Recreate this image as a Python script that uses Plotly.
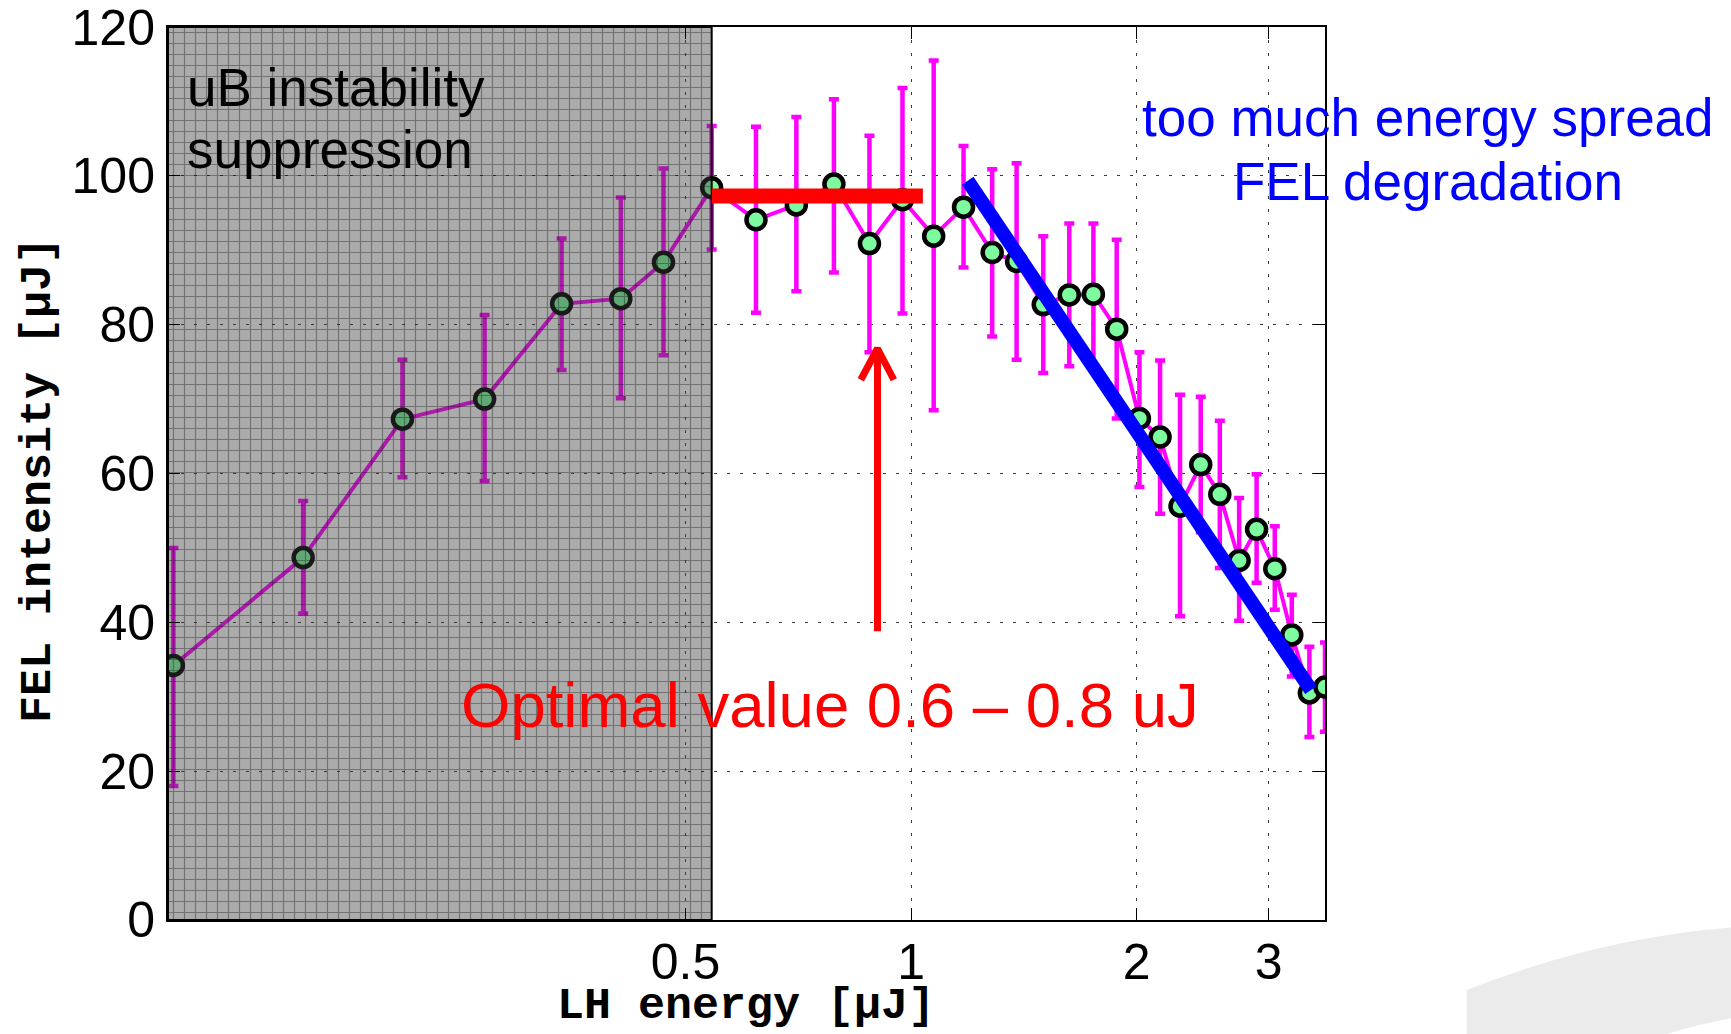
import math
import plotly.graph_objects as go

# ---------------- data ----------------
lh_energy = [0.1037, 0.1545, 0.2096, 0.2698, 0.3418, 0.410, 0.4674, 0.542,
             0.621, 0.703, 0.789, 0.880, 0.974, 1.072, 1.175, 1.283,
             1.383, 1.501, 1.626, 1.751, 1.881, 2.017, 2.149, 2.285,
             2.435, 2.582, 2.740, 2.891, 3.057, 3.221, 3.400, 3.567]
fel_intensity = [34.2, 48.7, 67.3, 70.0, 82.8, 83.5, 88.4, 98.4,
                 94.1, 96.1, 98.9, 90.9, 96.8, 91.9, 95.8, 89.7,
                 88.5, 82.7, 84.0, 84.1, 79.4, 67.4, 64.9, 55.6,
                 61.2, 57.2, 48.3, 52.5, 47.2, 38.3, 30.5, 31.3]
fel_upper = [50.0, 56.3, 75.3, 81.3, 91.6, 97.1, 101.0, 106.7,
             106.6, 107.9, 110.3, 105.4, 111.8, 115.5, 104.0, 100.9,
             101.7, 91.9, 93.6, 93.6, 91.4, 76.3, 75.2, 70.6,
             70.3, 67.1, 56.7, 59.9, 52.9, 43.7, 36.7, 37.3]
fel_lower = [18.0, 41.2, 59.5, 59.0, 73.9, 70.1, 75.9, 90.1,
             81.6, 84.5, 87.0, 76.3, 81.5, 68.5, 87.7, 78.4,
             75.3, 73.5, 74.4, 74.4, 67.4, 58.2, 54.6, 40.8,
             52.1, 47.3, 40.2, 45.3, 41.7, 32.7, 24.6, 25.3]

x_tick_vals = [0.5, 1, 2, 3]
x_tick_text = ["0.5", "1", "2", "3"]
y_tick_vals = [0, 20, 40, 60, 80, 100, 120]
y_tick_text = ["0", "20", "40", "60", "80", "100", "120"]

x_limits = [0.102, 3.567]
y_limits = [-0.01, 120.01]

suppression_region = [0.102, 0.542]          # shaded x-span
optimal_span = [0.542, 1.037]                # red bar x-span
optimal_level = 97.3                         # red bar level
arrow_x, arrow_wing_x = 0.902, [0.857, 0.9485]
arrow_y = [38.8, 76.8]
arrow_wing_y = 72.6
trend_x = [1.190, 3.417]                     # blue degradation line
trend_y = [99.35, 30.9]

# ---------------- figure geometry ----------------
W, H = 1731, 1034
ML, MR, MT, MB = 168, 406, 27, 114
PW, PH = W - ML - MR, H - MT - MB


def px(xp):
    return (xp - ML) / PW


def py(yp):
    return (H - MB - yp) / PH


err_plus = [u - v for u, v in zip(fel_upper, fel_intensity)]
err_minus = [v - l for v, l in zip(fel_intensity, fel_lower)]

fig = go.Figure()

# measured data
fig.add_trace(go.Scatter(
    x=lh_energy, y=fel_intensity, mode="lines+markers",
    line=dict(color="#ff00ff", width=4),
    marker=dict(size=19, color="#7cfc9e", line=dict(color="black", width=4.5)),
    error_y=dict(type="data", array=err_plus, arrayminus=err_minus,
                 color="#ff00ff", thickness=4.5, width=5, symmetric=False),
    showlegend=False, hoverinfo="skip"))

# shaded (suppression) region, translucent with a grid texture
sx0, sx1 = suppression_region
fig.add_trace(go.Scatter(
    x=[sx0, sx1, sx1, sx0, sx0], y=[y_limits[0], y_limits[0], y_limits[1], y_limits[1], y_limits[0]],
    mode="lines", fill="toself",
    fillcolor="rgba(57,57,57,0.45)",
    fillpattern=dict(shape="+", size=11, solidity=0.2,
                     bgcolor="rgba(60,60,60,0.43)", fgcolor="rgba(20,20,20,0.38)",
                     fgopacity=1, fillmode="replace"),
    line=dict(color="black", width=2),
    showlegend=False, hoverinfo="skip"))

# optimal range bar
fig.add_trace(go.Scatter(
    x=optimal_span, y=[optimal_level, optimal_level], mode="lines",
    line=dict(color="#ff0000", width=15), showlegend=False, hoverinfo="skip"))

# arrow
fig.add_trace(go.Scatter(
    x=[arrow_x, arrow_x, None, arrow_wing_x[0], arrow_x, arrow_wing_x[1]],
    y=[arrow_y[0], arrow_y[1], None, arrow_wing_y, arrow_y[1], arrow_wing_y],
    mode="lines", line=dict(color="#ff0000", width=7),
    showlegend=False, hoverinfo="skip"))

# degradation trend
fig.add_trace(go.Scatter(
    x=trend_x, y=trend_y, mode="lines",
    line=dict(color="#0000ff", width=14), showlegend=False, hoverinfo="skip"))

tick_font = dict(family="Liberation Sans, Arial, sans-serif", size=50, color="black")
title_font = dict(family="Liberation Mono, Courier New, monospace", size=45, color="black")
grid_common = dict(showgrid=True, gridcolor="#3a3a3a", gridwidth=1.3, griddash="3px,10px",
                   ticks="inside", ticklen=12, tickwidth=1.2, tickcolor="black",
                   showline=True, linecolor="black", linewidth=2, mirror="ticks",
                   zeroline=False, tickfont=tick_font, ticklabeloverflow="allow",
                   automargin=False)

fig.update_xaxes(type="log", range=[math.log10(x_limits[0]), math.log10(x_limits[1])],
                 tickvals=x_tick_vals, ticktext=x_tick_text, ticklabelstandoff=-3, **grid_common)
fig.update_yaxes(range=y_limits, tickvals=y_tick_vals, ticktext=y_tick_text,
                 ticklabelstandoff=1, **grid_common)

sans = "Liberation Sans, Arial, sans-serif"
annotations = [
    dict(text="uB instability", x=px(185), y=py(88), xanchor="left", yanchor="middle",
         font=dict(family=sans, size=53, color="black")),
    dict(text="suppression", x=px(185), y=py(150), xanchor="left", yanchor="middle",
         font=dict(family=sans, size=53, color="black")),
    dict(text="too much energy spread", x=px(1428), y=py(117), xanchor="center", yanchor="middle",
         font=dict(family=sans, size=53, color="#0000ff")),
    dict(text="FEL degradation", x=px(1428), y=py(181), xanchor="center", yanchor="middle",
         font=dict(family=sans, size=53, color="#0000ff")),
    dict(text="Optimal value 0.6 \u2013 0.8 uJ", x=px(459), y=py(705), xanchor="left", yanchor="middle",
         font=dict(family=sans, size=63.5, color="#ff0000")),
    dict(text="<b>LH energy [\u03bcJ]</b>", x=px(746), y=py(1006), xanchor="center", yanchor="middle",
         font=title_font),
    dict(text="<b>FEL intensity [\u03bcJ]</b>", x=px(38), y=py(480), xanchor="center", yanchor="middle",
         textangle=-90, font=title_font),
]
for a in annotations:
    a.update(xref="paper", yref="paper", showarrow=False)

# light grey swoosh in the bottom-right corner of the slide
def pt(xp, yp):
    return f"{px(xp):.5f},{py(yp):.5f}"

swoosh = (f"M{pt(1466.7, 1034)} L{pt(1466.7, 990)} Q{pt(1597.2, 938.2)} {pt(1731, 927.5)} "
          f"L{pt(1731, 1018.3)} Q{pt(1700, 1024)} {pt(1666.7, 1034)} Z")

fig.update_layout(
    width=W, height=H, margin=dict(l=ML, r=MR, t=MT, b=MB, autoexpand=False),
    paper_bgcolor="white", plot_bgcolor="white", showlegend=False,
    annotations=annotations,
    shapes=[dict(type="path", path=swoosh, xref="paper", yref="paper",
                 fillcolor="#ebebeb", line=dict(width=0), layer="below")],
)

fig.write_html("out.html")
